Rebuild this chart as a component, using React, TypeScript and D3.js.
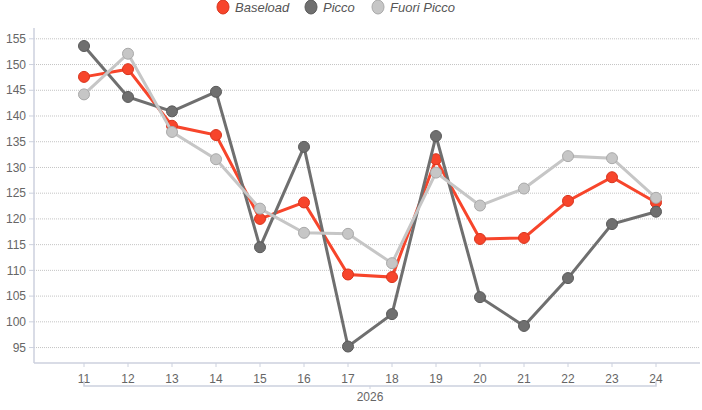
import * as d3 from 'd3'
import { useMemo } from 'react'

const hours = [11, 12, 13, 14, 15, 16, 17, 18, 19, 20, 21, 22, 23, 24]
const yTicks = [95, 100, 105, 110, 115, 120, 125, 130, 135, 140, 145, 150, 155]
const groupLabel = '2026'

const baseload = [147.6, 149.1, 138.1, 136.3, 120.0, 123.2, 109.2, 108.7, 131.6, 116.1, 116.3, 123.5, 128.1, 123.2]
const picco = [153.6, 143.7, 140.9, 144.7, 114.5, 134.0, 95.2, 101.5, 136.1, 104.8, 99.2, 108.5, 119.0, 121.4]
const fuoriPicco = [144.2, 152.1, 136.9, 131.6, 122.0, 117.3, 117.1, 111.4, 129.0, 122.6, 125.9, 132.2, 131.8, 124.1]

const seriesNames = ['Baseload', 'Picco', 'Fuori Picco']
const seriesColors = ['#f7452b', '#6f6f6f', '#c6c6c6']
const seriesStrokes = ['#d9341c', '#5a5a5a', '#a9a9a9']

const W = 702
const H = 410
const left = 34
const right = 700
const top = 28
const bottom = 363

const font = '"Liberation Sans", Arial, sans-serif'

const Chart = () => {
    const x = useMemo(() => d3.scaleLinear().domain([11, 24]).range([84, 656]), [])
    const y = useMemo(() => d3.scaleLinear().domain([92, 157.1]).range([bottom, top]), [])

    const line = d3
        .line<number>()
        .x((_, i) => x(hours[i]))
        .y(d => y(d))

    const all = [baseload, picco, fuoriPicco]
    const legendX = [223, 311, 378]
    const mid = (x(hours[0]) + x(hours[hours.length - 1])) / 2

    return (
        <svg width={W} height={H} style={{ position: 'absolute', left: 0, top: 0, fontFamily: font }}>
            {yTicks.map(t => (
                <g key={t}>
                    <line x1={left} x2={right} y1={y(t)} y2={y(t)} stroke="#c4c4c4" strokeDasharray="1,1" />
                    <line x1={left - 5} x2={left} y1={y(t)} y2={y(t)} stroke="#ccd1de" />
                    <text x={left - 8} y={y(t)} dy="0.35em" textAnchor="end" fontSize={12} fill="#666">{t}</text>
                </g>
            ))}
            <line x1={left} x2={left} y1={top} y2={bottom} stroke="#ccd1de" strokeWidth={1.5} />
            <line x1={left} x2={right} y1={bottom} y2={bottom} stroke="#ccd1de" strokeWidth={1.5} />
            {hours.map(h => (
                <g key={h}>
                    <line x1={x(h)} x2={x(h)} y1={bottom} y2={bottom + 4} stroke="#ccd1de" />
                    <text x={x(h)} y={383} textAnchor="middle" fontSize={12} fill="#666">{h}</text>
                </g>
            ))}
            <path
                d={`M${x(hours[0])},${381}V${386}H${x(hours[hours.length - 1])}V${381}`}
                fill="none"
                stroke="#ccd1de"
                strokeWidth={1.5}
            />
            <line x1={mid} x2={mid} y1={386} y2={389} stroke="#ccd1de" />
            <text x={mid} y={401} textAnchor="middle" fontSize={12} fill="#666">{groupLabel}</text>

            {all.map((s, k) => (
                <g key={k}>
                    <path d={line(s) ?? ''} fill="none" stroke={seriesColors[k]} strokeWidth={3} />
                    {s.map((v, i) => (
                        <circle key={i} cx={x(hours[i])} cy={y(v)} r={5.5} fill={seriesColors[k]} stroke={seriesStrokes[k]} strokeWidth={1} />
                    ))}
                </g>
            ))}

            {seriesNames.map((n, k) => (
                <g key={n}>
                    <ellipse cx={legendX[k]} cy={7} rx={6} ry={7} fill={seriesColors[k]} stroke={seriesStrokes[k]} />
                    <text x={legendX[k] + 12} y={7} dy="0.35em" fontSize={13} fontStyle="italic" fill="#555">{n}</text>
                </g>
            ))}
        </svg>
    )
}

export default function App() {
    return <Chart />
}
